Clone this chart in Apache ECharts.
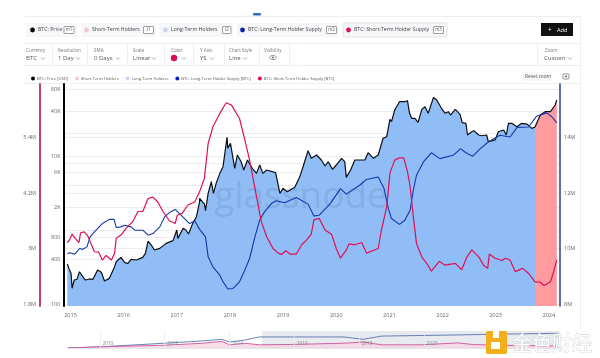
<!DOCTYPE html>
<html><head><meta charset="utf-8">
<style>html,body{margin:0;padding:0;background:#fff}#c{width:600px;height:358px}</style>
<script src="https://cdn.jsdelivr.net/npm/echarts@6/dist/echarts.min.js"></script>
</head><body><div id="c"></div>
<script>
// [decimal year, USD]
const priceData=[[2014.94,347],[2014.97,303],[2015.01,260],[2015.03,163],[2015.07,211],[2015.12,215],[2015.17,273],[2015.23,234],[2015.28,211],[2015.36,218],[2015.42,215],[2015.51,288],[2015.58,268],[2015.64,205],[2015.73,222],[2015.83,320],[2015.86,373],[2015.95,427],[2016.02,362],[2016.08,355],[2016.14,401],[2016.24,393],[2016.36,427],[2016.41,484],[2016.46,710],[2016.52,627],[2016.58,537],[2016.68,565],[2016.80,660],[2016.93,718],[2017.00,1000],[2017.02,771],[2017.12,1054],[2017.17,1000],[2017.22,883],[2017.30,1230],[2017.37,1514],[2017.43,2415],[2017.43,2679],[2017.52,2245],[2017.54,1825],[2017.59,3128],[2017.65,4500],[2017.69,3128],[2017.74,4270],[2017.81,5832],[2017.87,7175],[2017.945,17880],[2017.96,12700],[2018.01,14830],[2018.09,6810],[2018.14,10320],[2018.21,8380],[2018.26,6470],[2018.33,8830],[2018.42,6810],[2018.50,5832],[2018.56,7560],[2018.62,5832],[2018.69,6470],[2018.86,5950],[2018.94,3128],[2019.00,3656],[2019.08,3296],[2019.22,3773],[2019.31,5150],[2019.38,7330],[2019.47,11800],[2019.53,9300],[2019.63,10320],[2019.72,8830],[2019.79,7330],[2019.85,8380],[2019.93,6600],[2020.00,7560],[2020.10,9300],[2020.16,8380],[2020.19,5150],[2020.27,6470],[2020.35,8830],[2020.44,8830],[2020.54,8830],[2020.60,11090],[2020.70,9300],[2020.79,10320],[2020.88,17330],[2020.95,18250],[2021.01,31280],[2021.04,29100],[2021.10,41860],[2021.19,54200],[2021.29,54200],[2021.34,55900],[2021.38,37730],[2021.42,32300],[2021.48,32300],[2021.54,28500],[2021.61,42700],[2021.67,46400],[2021.73,37730],[2021.83,62000],[2021.89,57100],[2021.98,44100],[2022.05,37730],[2022.11,39720],[2022.15,35800],[2022.24,42700],[2022.33,36570],[2022.37,28200],[2022.44,27650],[2022.47,19230],[2022.55,21300],[2022.59,22000],[2022.68,19230],[2022.74,18800],[2022.83,19230],[2022.86,15630],[2022.99,16500],[2023.05,21300],[2023.15,22450],[2023.20,19230],[2023.24,27650],[2023.30,27650],[2023.40,24900],[2023.49,27650],[2023.59,27000],[2023.68,23660],[2023.74,24660],[2023.84,35800],[2023.93,39720],[2024.03,39720],[2024.12,48900],[2024.15,57100]];
// [decimal year, millions of BTC]
const shortTermSupply=[[2014.94,3.13],[2014.98,3.18],[2015.03,3.31],[2015.09,3.22],[2015.16,3.13],[2015.19,3.34],[2015.26,3.36],[2015.33,3.26],[2015.41,3.04],[2015.45,2.93],[2015.53,2.92],[2015.60,2.75],[2015.67,2.85],[2015.77,2.75],[2015.83,2.90],[2015.86,3.22],[2015.95,3.29],[2016.05,3.44],[2016.17,3.58],[2016.27,3.80],[2016.36,3.80],[2016.46,4.08],[2016.55,4.11],[2016.64,4.01],[2016.74,3.80],[2016.86,3.60],[2016.97,3.54],[2017.01,3.72],[2017.10,3.76],[2017.21,3.94],[2017.34,4.01],[2017.43,4.23],[2017.52,4.52],[2017.59,5.27],[2017.68,5.63],[2017.81,5.92],[2017.93,6.15],[2018.03,6.10],[2018.18,5.81],[2018.28,5.35],[2018.37,4.91],[2018.50,4.12],[2018.59,3.58],[2018.69,3.26],[2018.81,3.00],[2018.91,2.90],[2018.97,2.87],[2019.05,2.95],[2019.13,2.88],[2019.25,2.88],[2019.35,3.08],[2019.44,3.18],[2019.53,3.31],[2019.58,3.62],[2019.68,3.65],[2019.79,3.40],[2019.91,3.31],[2020.00,3.00],[2020.08,2.79],[2020.19,2.97],[2020.24,3.10],[2020.35,3.08],[2020.48,3.13],[2020.57,2.90],[2020.79,3.00],[2020.85,3.40],[2020.95,3.90],[2021.01,4.63],[2021.10,4.91],[2021.19,4.96],[2021.27,4.96],[2021.34,4.66],[2021.39,4.34],[2021.45,3.69],[2021.51,3.11],[2021.61,2.82],[2021.70,2.68],[2021.79,2.51],[2021.94,2.72],[2022.05,2.64],[2022.24,2.68],[2022.36,2.54],[2022.46,2.82],[2022.55,2.97],[2022.68,2.82],[2022.77,2.64],[2022.85,2.57],[2022.88,2.88],[2022.99,2.79],[2023.12,2.74],[2023.18,2.79],[2023.27,2.75],[2023.37,2.50],[2023.51,2.57],[2023.62,2.46],[2023.74,2.28],[2023.84,2.27],[2023.91,2.20],[2024.03,2.28],[2024.09,2.50],[2024.15,2.75]];
const longTermSupply=[[2014.94,9.82],[2014.99,9.85],[2015.08,9.79],[2015.17,10.0],[2015.23,9.97],[2015.31,10.06],[2015.37,10.42],[2015.45,10.60],[2015.60,10.90],[2015.73,11.05],[2015.82,11.05],[2015.86,10.76],[2015.95,10.78],[2016.02,10.84],[2016.14,10.78],[2016.21,10.66],[2016.36,10.66],[2016.46,10.48],[2016.55,10.54],[2016.68,10.78],[2016.77,11.14],[2016.88,11.32],[2016.97,11.41],[2017.08,11.20],[2017.24,10.90],[2017.34,10.99],[2017.43,10.69],[2017.54,10.42],[2017.59,9.70],[2017.68,9.34],[2017.81,9.04],[2017.87,8.80],[2017.96,8.54],[2018.06,8.56],[2018.18,8.80],[2018.28,9.22],[2018.37,9.64],[2018.47,10.42],[2018.56,11.02],[2018.65,11.32],[2018.78,11.62],[2018.87,11.72],[2019.03,11.65],[2019.25,11.84],[2019.47,11.60],[2019.58,11.17],[2019.68,11.20],[2019.88,11.60],[2020.08,12.16],[2020.19,11.96],[2020.44,12.28],[2020.57,12.49],[2020.79,12.58],[2020.90,12.16],[2020.98,11.44],[2021.04,11.08],[2021.19,10.87],[2021.29,11.02],[2021.39,11.38],[2021.45,12.10],[2021.51,12.64],[2021.64,13.12],[2021.79,13.45],[2021.95,13.24],[2022.20,13.36],[2022.34,13.60],[2022.42,13.48],[2022.49,13.40],[2022.57,13.33],[2022.71,13.60],[2022.86,13.84],[2023.08,14.08],[2023.27,14.02],[2023.40,14.36],[2023.62,14.38],[2023.77,14.77],[2023.96,14.89],[2024.06,14.74],[2024.15,14.53]];
const holderSwitchYear=2023.74;
const priceTicks=[100,400,800,2000,6000,10000,40000,80000];
const priceGrid=[400,800,1000,2000,4000,6000,8000,10000,20000,40000,80000];
const shortTicks=[1.8,3,4.2,5.4];
const longTicks=[8,10,12,14];
const yearTicks=[2015,2016,2017,2018,2019,2020,2021,2022,2023,2024];
const navLong=[[2009,0],[2010,1.1],[2012,4.5],[2013.18,6.7],[2013.76,8.2],[2014,5.6],[2014.47,7.4],[2014.92,10.4],[2015.88,10.4],[2017.53,10.4],[2018.12,8.2],[2018.7,11.2],[2021.06,12.3],[2022.24,13],[2024.12,13.8]];
const navShort=[[2009,0],[2010,1.1],[2012,2.6],[2013.18,4.5],[2013.76,6.3],[2014,3],[2014.47,4.5],[2014.92,3],[2015.88,3.3],[2017.53,4.5],[2018.12,5.6],[2018.7,3],[2019.9,3],[2021.06,4.8],[2021.5,3.3],[2022.24,2.6],[2024.12,1.9]];
const navTicks=[2010,2012,2014,2016,2018,2020,2022];

const FONT='"Open Sans","Noto Sans",sans-serif';
const g=[];
const txt=(x,y,t,s,c,al)=>g.push({type:'text',x,y,style:{text:t,fontSize:s,fill:c,fontFamily:FONT,verticalAlign:'middle',align:al||'left'},silent:true});
const rect=(x,y,w,h,f,st,r)=>g.push({type:'rect',shape:{x,y,width:w,height:h,r:r||0},style:{fill:f,stroke:st||null,lineWidth:st?0.7:0},silent:true});
const dot=(x,y,r,f)=>g.push({type:'circle',shape:{cx:x,cy:y,r},style:{fill:f},silent:true});
const line=(x1,y1,x2,y2,c)=>g.push({type:'line',shape:{x1,y1,x2,y2},style:{stroke:c,lineWidth:1},silent:true});
const caret=(x,y)=>g.push({type:'polyline',shape:{points:[[x,y],[x+2,y+2],[x+4,y]]},style:{stroke:'#777',lineWidth:0.6,fill:null},silent:true});

// frame
line(23,16.5,580,16.5,'#eeeeee');line(23,43.5,580,43.5,'#eeeeee');line(23,65.5,580,65.5,'#eeeeee');line(23,83.5,580,83.5,'#eeeeee');
line(580.5,16,580.5,330,'#efefef');
rect(253,13,8,2.5,'#3568b8',null,1);
// chips: x, width, label, key, dot colour, text x, key x, key width
const chips=[[26,51,'BTC: Price','m1','#000',38,64,10],[81,75,'Short-Term Holders','t1','#f7c6d4',92,143.5,10],[159,74,'Long-Term Holders','t2','#c6d6f2',171,222.5,8.5],[237,101,'BTC: Long-Term Holder Supply','m2','#0b1fb5',248,326.5,10],[343,104,'BTC: Short-Term Holder Supply','m3','#e0104f',354,433.5,10]];
chips.forEach((c,i)=>{
  rect(c[0],23,c[1],14,'#f6f7f9',i==4?'#d8dade':null,1);
  dot(c[5]-5.5,30,2.4,c[4]);
  txt(c[5],30,c[2],5.2,'#444');
  rect(c[6],26.5,c[7],7,'#fff','#777',0.5);
  txt(c[6]+c[7]/2,30,c[3],4.4,'#555','center');
});
rect(541,23,32,13,'#111');
txt(548,30,'+',6.5,'#fff');txt(557,30,'Add',5.6,'#fff');
// controls
const ctrl=[[26,'Currency','BTC',41],[58,'Resolution','1 Day',76],[94,'SMA','0 Days',116],[133,'Scale','Linear',152],[171,'Color','',182],[200,'Y Axis','YS',210],[229,'Chart Style','Line',243],[264,'Visibility','',0]];
ctrl.forEach(c=>{txt(c[0],50.5,c[1],4.6,'#777');if(c[2])txt(c[0],58.5,c[2],6,'#555');if(c[3])caret(c[3],57.5);});
[52,87,127,164,193,224,259,289].forEach(x=>line(x+.5,44,x+.5,65,'#eeeeee'));
line(537.5,44,537.5,65,'#eeeeee');
dot(174,58,3.2,'#e0104f');
g.push({type:'ellipse',shape:{cx:273,cy:57.5,rx:3.4,ry:2},style:{fill:'#fff',stroke:'#666',lineWidth:.7},silent:true});
dot(273,57.5,.9,'#666');
txt(545,50.5,'Zoom',4.6,'#777');txt(544,58.5,'Custom',6,'#555');caret(568,57.5);
// reset zoom
rect(522,72,30,9,'#f6f7f9',null,1);txt(525,76.5,'Reset zoom',4.8,'#555');
rect(563,74,6,5,'#fff','#666',.6);dot(566,76.5,1,'#666');
// watermark glassnode
g.push({type:'text',x:301,y:197,z:4,style:{text:'glassnode',fontSize:37,fontFamily:'"Open Sans",sans-serif',fill:'rgba(90,115,160,0.2)',align:'center',verticalAlign:'middle'},silent:true});
// corner logo
g.push({type:'rect',z:20,shape:{x:486,y:331,width:21,height:23,r:1.5},style:{fill:'#f3ae1c'},silent:true});
g.push({type:'rect',z:21,shape:{x:493,y:330,width:6,height:8},style:{fill:'#fff'},silent:true});
g.push({type:'rect',z:21,shape:{x:491,y:342,width:9,height:7},style:{fill:'#fff'},silent:true});
g.push({type:'text',z:21,x:512,y:343,style:{text:'金色财经',fontSize:20,fontFamily:'"Noto Sans CJK SC"',fill:'#fff',stroke:'#c4c4c4',lineWidth:.7,verticalAlign:'middle'},silent:true});

const lineBase={type:'line',showSymbol:false,symbol:'none',animation:false,silent:true};
const longArea=priceData.filter(d=>d[0]<=holderSwitchYear);
const shortArea=priceData.filter(d=>d[0]>=holderSwitchYear);
const axisText={fontSize:5.5,color:'#666',fontFamily:'"Open Sans",sans-serif'};
const gridLine={show:true,lineStyle:{color:'#ececec',width:1}};
const opt={
 animation:false,backgroundColor:'#fff',
 textStyle:{fontFamily:FONT},
 grid:[{left:64,right:40,top:84,height:222},{left:67.5,right:40,top:331,height:17}],
 legend:{left:26,top:71.5,itemWidth:4,itemHeight:4,itemGap:7,icon:'circle',textStyle:{fontSize:4.1,color:'#555',padding:[0,0,0,-3]},
  data:['BTC: Price [USD]','Short-Term Holders','Long-Term Holders','BTC: Long-Term Holder Supply [BTC]','BTC: Short-Term Holder Supply [BTC]'],selectedMode:false},
 xAxis:[
  {type:'value',gridIndex:0,min:2014.878,max:2024.21,splitLine:{show:false},axisLine:{show:false},axisTick:{show:false,customValues:yearTicks},
   axisLabel:Object.assign({customValues:yearTicks,margin:6,formatter:v=>String(Math.round(v))},axisText)},
  {type:'value',gridIndex:1,min:2009,max:2024.2,z:10,axisLine:{show:true,lineStyle:{color:'#e3e5e9'}},
   axisTick:{show:false,customValues:navTicks},splitLine:{show:true,lineStyle:{color:'#e6e8ec',width:.7}},
   axisLabel:Object.assign({},axisText,{customValues:navTicks,inside:true,margin:2,align:'left',color:'#888',fontSize:4.8,formatter:v=>'  '+Math.round(v)})}
 ],
 yAxis:[
  {type:'log',gridIndex:0,position:'left',min:94,max:94000,logBase:10,
   axisLine:{show:true,onZero:false,lineStyle:{color:'#000',width:2}},
   axisTick:{show:false,customValues:priceGrid},
   splitLine:gridLine,minorSplitLine:{show:false},
   axisLabel:Object.assign({customValues:priceTicks,margin:3.5,formatter:v=>v>=1000?Math.round(v/1000)+'K':String(Math.round(v))},axisText)},
  {type:'value',gridIndex:0,position:'left',offset:24,min:1.757,max:6.556,
   axisLine:{show:true,onZero:false,lineStyle:{color:'#c23f7a',width:2}},
   axisTick:{show:false,customValues:shortTicks},splitLine:gridLine,
   axisLabel:Object.assign({customValues:shortTicks,margin:4,formatter:v=>v+'M'},axisText)},
  {type:'value',gridIndex:0,position:'right',min:7.928,max:15.93,
   axisLine:{show:true,onZero:false,lineStyle:{color:'#23409e',width:1.5}},
   axisTick:{show:false,customValues:longTicks},splitLine:{show:false},
   axisLabel:Object.assign({customValues:longTicks,margin:4,formatter:v=>v+'M'},axisText)},
  {type:'value',gridIndex:1,min:0,max:16,show:false}
 ],
 graphic:{elements:g},
 series:[
  Object.assign({},lineBase,{name:'Long-Term Holders',data:longArea,yAxisIndex:0,z:1,lineStyle:{width:0},itemStyle:{color:'#c6d6f2'},areaStyle:{color:'#90bdf6',opacity:1,origin:'start'}}),
  Object.assign({},lineBase,{name:'Short-Term Holders',data:shortArea,yAxisIndex:0,z:1,lineStyle:{width:0},itemStyle:{color:'#f7c6d4'},areaStyle:{color:'#ff9a9f',opacity:1,origin:'start'}}),
  Object.assign({},lineBase,{name:'BTC: Price [USD]',data:priceData,yAxisIndex:0,z:5,lineStyle:{color:'#0b0f14',width:1.2},itemStyle:{color:'#000'}}),
  Object.assign({},lineBase,{name:'BTC: Long-Term Holder Supply [BTC]',data:longTermSupply,yAxisIndex:2,z:6,lineStyle:{color:'#1237ab',width:1.1},itemStyle:{color:'#0b1fb5'}}),
  Object.assign({},lineBase,{name:'BTC: Short-Term Holder Supply [BTC]',data:shortTermSupply,yAxisIndex:1,z:7,lineStyle:{color:'#df1052',width:1.2},itemStyle:{color:'#e0104f'}}),
  Object.assign({},lineBase,{name:'nav-long',data:navLong,xAxisIndex:1,yAxisIndex:3,z:3,lineStyle:{color:'#5a74ae',width:.9},
    markArea:{silent:true,itemStyle:{color:'#dfe3ea',opacity:.75},data:[[{xAxis:2015},{xAxis:2024.2}]]}}),
  Object.assign({},lineBase,{name:'nav-short',data:navShort,xAxisIndex:1,yAxisIndex:3,z:4,lineStyle:{color:'#c9559b',width:.9},areaStyle:{color:'#f6d5e4',opacity:.8,origin:'start'}})
 ]
};
echarts.init(document.getElementById('c'),null,{renderer:'canvas'}).setOption(opt);
</script></body></html>
